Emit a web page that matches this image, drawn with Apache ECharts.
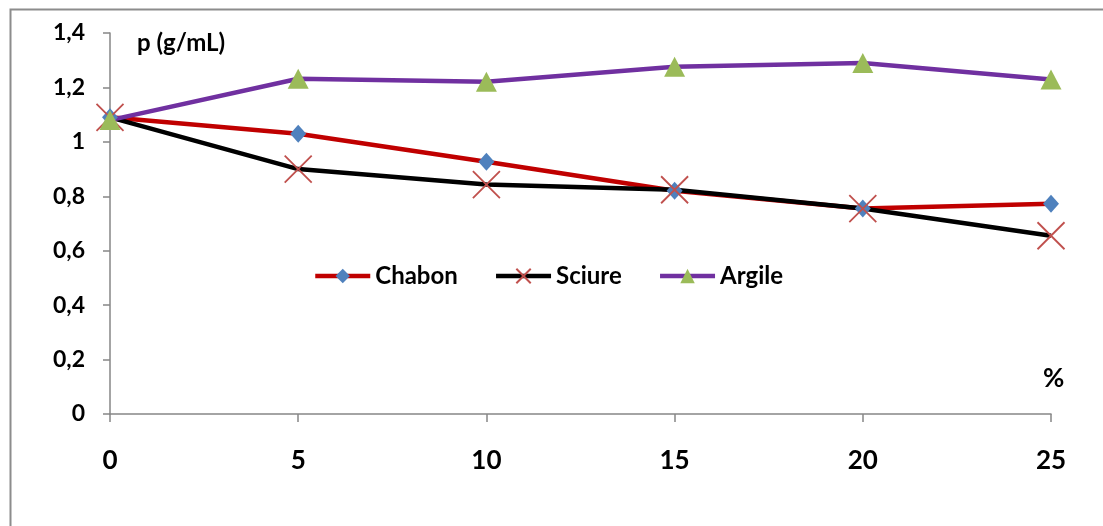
<!DOCTYPE html>
<html>
<head>
<meta charset="utf-8">
<script src="https://cdn.jsdelivr.net/npm/echarts@6/dist/echarts.min.js"></script>
<style>
html,body{margin:0;padding:0;background:#fff;}
#chart{width:1103px;height:526px;}
</style>
</head>
<body>
<div id="chart"></div>
<script>
const xValues = [0, 5, 10, 15, 20, 25];
const chabon = [1.09, 1.03, 0.927, 0.82, 0.755, 0.773];
const sciure = [1.09, 0.90, 0.843, 0.824, 0.755, 0.655];
const argile = [1.08, 1.232, 1.221, 1.276, 1.29, 1.229];
const seriesNames = ['Chabon', 'Sciure', 'Argile'];
const yAxisTitle = 'p (g/mL)';
const xAxisTitle = '%';

const FONT = 'Lato, "Liberation Sans", sans-serif';
const pairs = arr => xValues.map((x, i) => [x, arr[i]]);
const crossPath = 'path://M0,0L10,10M10,0L0,10';

const chart = echarts.init(document.getElementById('chart'));
chart.setOption({
  backgroundColor: '#ffffff',
  animation: false,
  grid: {left: 110, right: 52, top: 33, bottom: 112},
  legend: {
    left: 308, top: 259,
    itemWidth: 55, itemHeight: 18, itemGap: 36,
    lineStyle: {width: 4.5},
    textStyle: {fontFamily: FONT, fontWeight: 'bold', fontSize: 24, color: '#000'},
    data: seriesNames
  },
  xAxis: {
    type: 'value', min: 0, max: 25, interval: 5,
    axisLine: {lineStyle: {color: '#868686', width: 1.5}},
    axisTick: {show: true, length: 8, lineStyle: {color: '#868686', width: 1.5}},
    splitLine: {show: false},
    axisLabel: {fontFamily: FONT, fontWeight: 'bold', fontSize: 26, color: '#000', margin: 34}
  },
  yAxis: {
    type: 'value', min: 0, max: 1.4, interval: 0.2,
    axisLine: {show: true, lineStyle: {color: '#868686', width: 1.5}},
    axisTick: {show: true, length: 7, lineStyle: {color: '#868686', width: 1.5}},
    splitLine: {show: false},
    axisLabel: {fontFamily: FONT, fontWeight: 'bold', fontSize: 23, color: '#000', margin: 25,
      formatter: v => String(Math.round(v * 10) / 10).replace('.', ',')}
  },
  graphic: [
    {type: 'rect', left: 8, top: 7, shape: {width: 1200, height: 600}, silent: true, z: -10,
      style: {fill: 'none', stroke: '#8c8c8c', lineWidth: 2}},
    {type: 'text', left: 137, top: 31, style: {text: yAxisTitle, font: 'bold 24px ' + FONT, fill: '#000'}},
    {type: 'text', left: 1043, top: 366, style: {text: xAxisTitle, font: 'bold 26px ' + FONT, fill: '#000'}}
  ],
  series: [
    {name: seriesNames[0], type: 'line', data: pairs(chabon),
      lineStyle: {color: '#c00000', width: 4.5}, color: '#c00000',
      symbol: 'diamond', symbolSize: [16, 18],
      itemStyle: {color: '#4f81bd', borderWidth: 0}},
    {name: seriesNames[1], type: 'line', data: pairs(sciure),
      lineStyle: {color: '#000000', width: 4.5}, color: '#000000',
      symbol: crossPath, symbolSize: 27,
      itemStyle: {color: 'rgba(0,0,0,0)', borderColor: '#c0504d', borderWidth: 1.8}},
    {name: seriesNames[2], type: 'line', data: pairs(argile),
      lineStyle: {color: '#7030a0', width: 4.5}, color: '#7030a0',
      symbol: 'triangle', symbolSize: [21, 20],
      itemStyle: {color: '#9bbb59', borderWidth: 0}}
  ]
});
</script>
</body>
</html>
